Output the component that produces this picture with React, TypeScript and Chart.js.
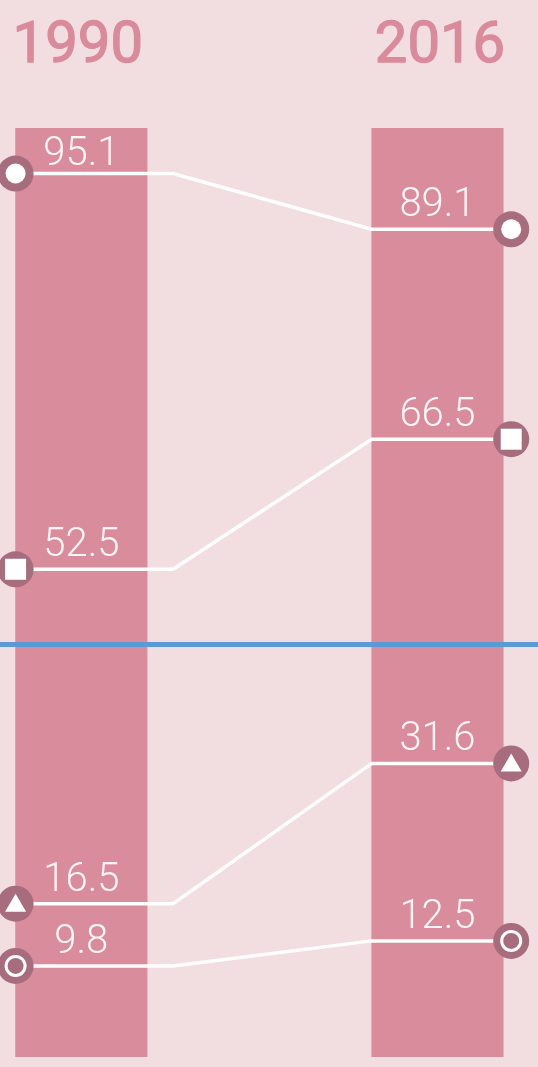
import React, { useEffect, useRef } from 'react';
import { Chart, registerables } from 'chart.js';

Chart.register(...registerables);

// ---- data ----
const years = ['1990', '2016'];
const barValues = [100, 100];
const values1990 = [95.1, 52.5, 16.5, 9.8];
const values2016 = [89.1, 66.5, 31.6, 12.5];
const valueLabels1990 = ['95.1', '52.5', '16.5', '9.8'];
const valueLabels2016 = ['89.1', '66.5', '31.6', '12.5'];
const markerShapes = ['circle', 'square', 'triangle', 'ring'];
const thresholdValue = 44.4;

// ---- styles ----
const BG = '#f2dde1';
const BAR = '#d98c9c';
const YEAR = '#d98b9c';
const MARKER = '#a86c7f';
const LABEL = '#fff5f7';
const BLUE = '#5b9bd5';

function drawMarker(ctx: CanvasRenderingContext2D, x: number, y: number, shape: string) {
  ctx.save();
  ctx.fillStyle = MARKER;
  ctx.beginPath();
  ctx.arc(x, y, 18, 0, Math.PI * 2);
  ctx.fill();
  ctx.fillStyle = '#ffffff';
  ctx.strokeStyle = '#ffffff';
  if (shape === 'circle') {
    ctx.beginPath();
    ctx.arc(x, y, 10, 0, Math.PI * 2);
    ctx.fill();
  } else if (shape === 'square') {
    ctx.fillRect(x - 10.5, y - 10.5, 21, 21);
  } else if (shape === 'triangle') {
    ctx.beginPath();
    ctx.moveTo(x, y - 10);
    ctx.lineTo(x + 10.5, y + 8);
    ctx.lineTo(x - 10.5, y + 8);
    ctx.closePath();
    ctx.fill();
  } else if (shape === 'ring') {
    ctx.lineWidth = 3;
    ctx.beginPath();
    ctx.arc(x, y, 9.5, 0, Math.PI * 2);
    ctx.stroke();
  }
  ctx.restore();
}

export default function App() {
  const ref = useRef<HTMLCanvasElement>(null);

  useEffect(() => {
    document.body.style.margin = '0';
    const canvas = ref.current;
    if (!canvas) return;

    const overlay = {
      id: 'slopeOverlay',
      beforeDraw(chart: any) {
        const ctx = chart.ctx;
        ctx.save();
        ctx.fillStyle = BG;
        ctx.fillRect(0, 0, chart.width, chart.height);
        ctx.restore();
      },
      afterDatasetsDraw(chart: any) {
        const ctx: CanvasRenderingContext2D = chart.ctx;
        const yScale = chart.scales.y;
        const bars = chart.getDatasetMeta(0).data;
        const p0 = bars[0].getProps(['x', 'width'], true);
        const p1 = bars[1].getProps(['x', 'width'], true);
        const l0 = p0.x - p0.width / 2;
        const r0 = p0.x + p0.width / 2;
        const l1 = p1.x - p1.width / 2;
        const r1 = p1.x + p1.width / 2;
        const top = chart.chartArea.top;

        // threshold line
        const ty = yScale.getPixelForValue(thresholdValue);
        ctx.save();
        ctx.strokeStyle = BLUE;
        ctx.lineWidth = 5;
        ctx.beginPath();
        ctx.moveTo(0, ty);
        ctx.lineTo(chart.width, ty);
        ctx.stroke();
        ctx.restore();

        // connectors
        values1990.forEach((v, i) => {
          const ya = yScale.getPixelForValue(v);
          const yb = yScale.getPixelForValue(values2016[i]);
          ctx.save();
          ctx.strokeStyle = '#ffffff';
          ctx.lineWidth = 3.5;
          ctx.lineJoin = 'miter';
          ctx.beginPath();
          ctx.moveTo(l0, ya);
          ctx.lineTo(r0 + 26, ya);
          ctx.lineTo(l1, yb);
          ctx.lineTo(r1 + 8, yb);
          ctx.stroke();
          ctx.restore();
        });

        // markers
        values1990.forEach((v, i) => {
          drawMarker(ctx, l0, yScale.getPixelForValue(v), markerShapes[i]);
          drawMarker(ctx, r1 + 8, yScale.getPixelForValue(values2016[i]), markerShapes[i]);
        });

        // value labels
        ctx.save();
        ctx.fillStyle = LABEL;
        ctx.font = '300 40px Roboto';
        ctx.textAlign = 'center';
        ctx.textBaseline = 'alphabetic';
        values1990.forEach((v, i) => {
          const y = yScale.getPixelForValue(v);
          ctx.fillText(valueLabels1990[i], p0.x, Math.max(y - 13, top + 37));
        });
        values2016.forEach((v, i) => {
          const y = yScale.getPixelForValue(v);
          ctx.fillText(valueLabels2016[i], p1.x, Math.max(y - 13, top + 37));
        });
        ctx.restore();

        // year labels
        ctx.save();
        ctx.fillStyle = YEAR;
        ctx.strokeStyle = YEAR;
        ctx.lineWidth = 1.3;
        ctx.lineJoin = 'round';
        ctx.font = '400 58px Roboto';
        ctx.textBaseline = 'alphabetic';
        ctx.textAlign = 'left';
        ctx.fillText(years[0], l0 - 3, 62);
        ctx.strokeText(years[0], l0 - 3, 62);
        ctx.textAlign = 'right';
        ctx.fillText(years[1], r1 + 2, 62);
        ctx.strokeText(years[1], r1 + 2, 62);
        ctx.restore();
      },
    };

    const chart = new Chart(canvas, {
      type: 'bar',
      data: {
        datasets: [
          {
            data: years.map((_, i) => ({ x: i, y: barValues[i] })),
            backgroundColor: BAR,
            borderWidth: 0,
            barThickness: 131.5,
          } as any,
        ],
      },
      options: {
        animation: false,
        responsive: false,
        maintainAspectRatio: false,
        layout: { padding: { top: 128, bottom: 10, left: 0, right: 0 } },
        plugins: { legend: { display: false }, tooltip: { enabled: false } },
        scales: {
          x: { type: 'linear', offset: false, min: -0.2284, max: 1.2823, display: false },
          y: { min: 0, max: 100, display: false },
        },
      },
      plugins: [overlay],
    });
    return () => chart.destroy();
  }, []);

  return (
    <div style={{ width: 538, height: 1067, background: BG }}>
      <canvas ref={ref} width={538} height={1067} style={{ display: 'block' }} />
    </div>
  );
}
